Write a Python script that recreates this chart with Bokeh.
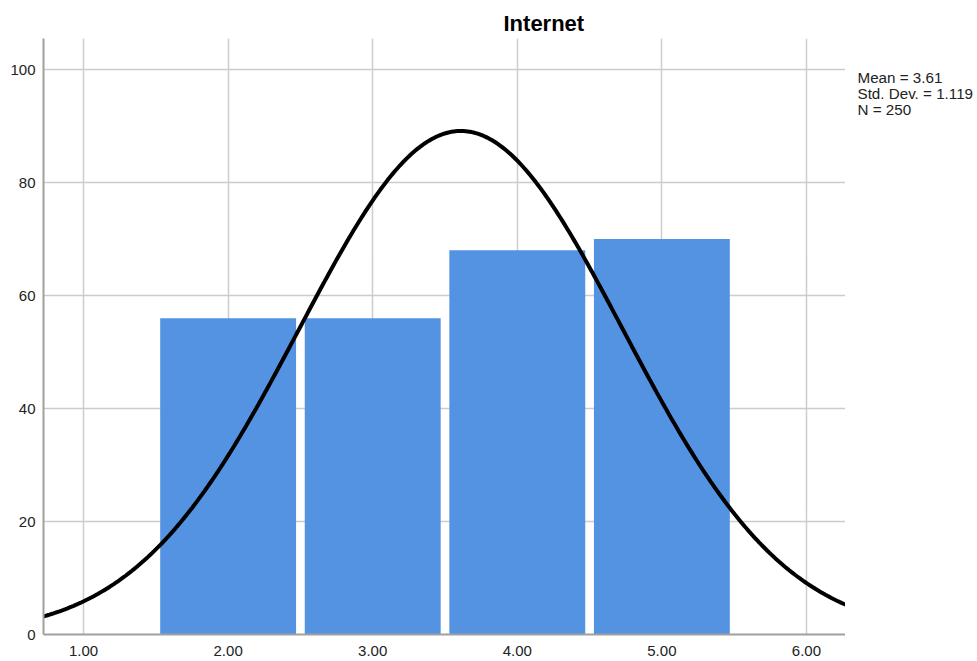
import numpy as np
from bokeh.plotting import figure
from bokeh.layouts import row
from bokeh.models import FixedTicker, ColumnDataSource, Range1d
from bokeh.core.properties import value
from bokeh.embed import file_html
from bokeh.resources import INLINE

# Data
bin_centers = [2.0, 3.0, 4.0, 5.0]
counts = [56, 56, 68, 70]
mean_val = 3.61
std_val = 1.119
n_val = 250
x_ticks = [1, 2, 3, 4, 5, 6]
x_tick_labels = ["1.00", "2.00", "3.00", "4.00", "5.00", "6.00"]
y_ticks = [0, 20, 40, 60, 80, 100]
stats_lines = ["Mean = 3.61", "Std. Dev. = 1.119", "N = 250"]
title_text = "Internet"

X0, X1 = 0.723, 6.27
Y0, Y1 = 0, 105.5
BAR_W = 0.94
FONT = "Liberation Sans"
FRAME_TOP, FRAME_BOTTOM_BORDER, H = 38, 27, 661

p = figure(width=845, height=H, x_range=(X0, X1), y_range=(Y0, Y1),
           output_backend="svg", toolbar_location=None,
           min_border_left=43, min_border_right=0, min_border_top=FRAME_TOP,
           min_border_bottom=FRAME_BOTTOM_BORDER)
p.outline_line_color = None
p.background_fill_color = "white"
p.border_fill_color = "white"

# title
p.title.text = title_text
p.title.text_font = FONT
p.title.text_font_size = "22px"
p.title.text_font_style = "bold"
p.title.text_color = "black"
p.title.align = "left"
p.title.offset = 460
p.title.standoff = 6

# grid
p.xgrid.ticker = FixedTicker(ticks=x_ticks)
p.ygrid.ticker = FixedTicker(ticks=y_ticks)
for g in (p.xgrid, p.ygrid):
    g.grid_line_color = "#cccccc"
    g.grid_line_width = 1.5

# axes
p.xaxis.ticker = FixedTicker(ticks=x_ticks)
p.xaxis.major_label_overrides = {t: l for t, l in zip(x_ticks, x_tick_labels)}
p.yaxis.ticker = FixedTicker(ticks=y_ticks)
for ax in (p.xaxis, p.yaxis):
    ax.axis_line_color = "#a0a0a0"
    ax.axis_line_width = 2
    ax.major_tick_line_color = None
    ax.minor_tick_line_color = None
    ax.major_tick_out = 0
    ax.major_tick_in = 0
    ax.major_label_text_font = FONT
    ax.major_label_text_font_size = "15px"
    ax.major_label_text_color = "#222222"
p.xaxis.major_label_standoff = 11
p.yaxis.major_label_standoff = 8

# bars
src = ColumnDataSource(dict(
    left=[c - BAR_W / 2 for c in bin_centers],
    right=[c + BAR_W / 2 for c in bin_centers],
    top=counts,
    bottom=[0] * len(counts),
))
p.quad(left="left", right="right", top="top", bottom="bottom", source=src,
       fill_color="#5493e2", line_color=None)

# normal curve from the stated statistics (bin width 1)
xs = np.linspace(X0, X1, 400)
ys = n_val * 1.0 * np.exp(-0.5 * ((xs - mean_val) / std_val) ** 2) / (std_val * np.sqrt(2 * np.pi))
p.line(xs, ys, line_color="black", line_width=4)

# side panel with the statistics text (its frame is aligned with p's frame,
# so its y range is expressed in page pixels of that frame)
W2 = 132
p2 = figure(width=W2, height=H, x_range=Range1d(0, W2),
            y_range=Range1d(H - FRAME_BOTTOM_BORDER, FRAME_TOP),
            output_backend="svg", toolbar_location=None,
            x_axis_location=None, y_axis_location=None,
            min_border=0, min_border_left=0, min_border_right=0,
            min_border_top=FRAME_TOP, min_border_bottom=FRAME_BOTTOM_BORDER)
p2.outline_line_color = None
p2.xgrid.visible = False
p2.ygrid.visible = False
p2.background_fill_color = "white"
p2.border_fill_color = "white"
first_baseline, line_gap, text_x = 76.5, 16.2, 12
p2.text(x=[text_x] * len(stats_lines),
        y=[first_baseline + i * line_gap for i in range(len(stats_lines))],
        text=stats_lines, text_font=value(FONT), text_font_size="15.2px",
        text_baseline="alphabetic", text_align="left", text_color="#222222")

layout = row(p, p2, spacing=0)
open("out.html", "w").write(file_html(layout, INLINE))
